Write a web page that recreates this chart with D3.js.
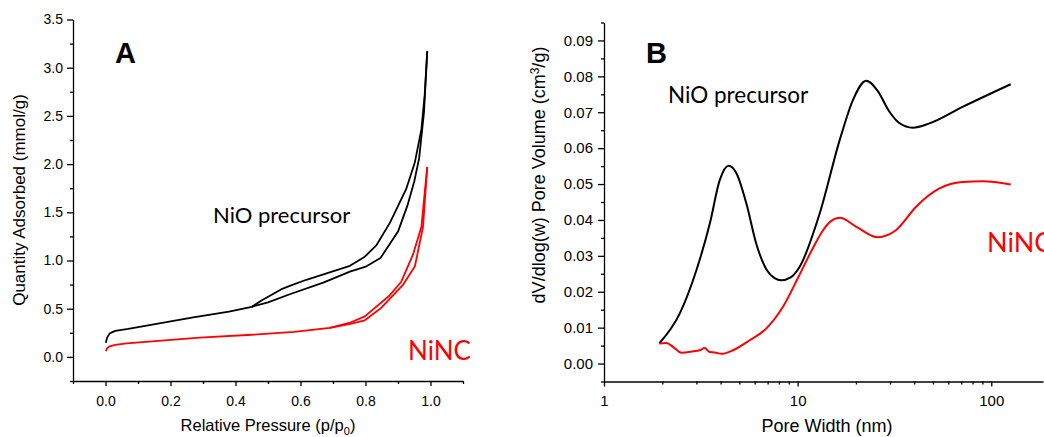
<!DOCTYPE html>
<html>
<head>
<meta charset="utf-8">
<script src="https://cdn.jsdelivr.net/npm/d3@7"></script>
<style>
  body { margin: 0; background: #fff; }
  svg { display: block; }
  .axis text { font-family: "Liberation Sans", Arial, sans-serif; fill: #000; }
  .axis path, .axis line { stroke: #000; stroke-width: 1.3; }
  .title { font-family: "Liberation Sans", Arial, sans-serif; fill: #000; }
  .note { font-family: Lato, "Open Sans", sans-serif; }
</style>
</head>
<body>
<div id="chart"></div>
<script>
// ---- panel A: N2 isotherms (relative pressure vs quantity adsorbed) ----
var nioAdsP = [0.001, 0.005, 0.013, 0.03, 0.07, 0.17, 0.27, 0.38, 0.45, 0.50, 0.567, 0.67, 0.752, 0.803, 0.846, 0.90, 0.93, 0.95, 0.965, 0.98, 0.99];
var nioAdsQ = [0.146, 0.20, 0.244, 0.27, 0.29, 0.35, 0.41, 0.47, 0.52, 0.565, 0.65, 0.77, 0.885, 0.94, 1.025, 1.30, 1.58, 1.82, 2.06, 2.54, 3.17];
var nioDesP = [0.99, 0.982, 0.972, 0.952, 0.925, 0.875, 0.834, 0.798, 0.752, 0.618, 0.567, 0.54, 0.48, 0.45];
var nioDesQ = [3.17, 2.71, 2.36, 2.02, 1.74, 1.39, 1.16, 1.04, 0.945, 0.80, 0.736, 0.70, 0.585, 0.52];

var ncAdsP = [0.001, 0.005, 0.013, 0.03, 0.065, 0.29, 0.45, 0.58, 0.69, 0.75, 0.798, 0.849, 0.916, 0.952, 0.977, 0.99];
var ncAdsQ = [0.06, 0.09, 0.11, 0.125, 0.14, 0.20, 0.23, 0.26, 0.30, 0.34, 0.38, 0.51, 0.75, 0.94, 1.35, 1.97];
var ncDesP = [0.99, 0.982, 0.972, 0.946, 0.91, 0.875, 0.798, 0.75, 0.69];
var ncDesQ = [1.97, 1.70, 1.35, 1.06, 0.78, 0.64, 0.42, 0.352, 0.30];

var aXTicks = [0, 0.2, 0.4, 0.6, 0.8, 1.0];
var aXMinor = [-0.1, 0.1, 0.3, 0.5, 0.7, 0.9, 1.1];
var aYTicks = [0, 0.5, 1.0, 1.5, 2.0, 2.5, 3.0, 3.5];
var aYMinor = [-0.25, 0.25, 0.75, 1.25, 1.75, 2.25, 2.75, 3.25];

// ---- panel B: pore size distribution ----
var nioW = [1.93, 2.46, 3.0, 3.52, 3.96, 4.4, 4.83, 5.44, 6.12, 6.9, 7.6, 8.24, 9.2, 10.3, 13.0, 16.5, 19.3, 22.6, 26.0, 29.5, 33.5, 39.3, 47.9, 71.1, 126];
var nioV = [0.0056, 0.0139, 0.026, 0.039, 0.0511, 0.0551, 0.053, 0.0445, 0.0333, 0.0262, 0.0238, 0.0232, 0.0240, 0.0272, 0.0418, 0.0623, 0.0734, 0.0788, 0.0758, 0.0705, 0.0670, 0.0657, 0.0669, 0.0715, 0.0778];
var ncW = [1.93, 2.1, 2.28, 2.51, 2.89, 3.12, 3.31, 3.52, 3.73, 4.04, 4.64, 5.66, 6.9, 8.4, 10.2, 12.0, 13.4, 14.8, 16.5, 20.1, 25.9, 32.3, 40.9, 54, 71.1, 90.2, 126];
var ncV = [0.0056, 0.0057, 0.0046, 0.003, 0.0034, 0.0037, 0.0043, 0.0032, 0.0031, 0.0027, 0.0037, 0.0065, 0.0098, 0.0158, 0.0246, 0.0322, 0.0368, 0.0396, 0.0406, 0.0381, 0.0352, 0.0372, 0.0437, 0.0488, 0.0506, 0.0508, 0.0499];

var bXTicks = [1, 10, 100];
var bXMinor = [2, 3, 4, 5, 6, 7, 8, 9, 20, 30, 40, 50, 60, 70, 80, 90];
var bYTicks = [0, 0.01, 0.02, 0.03, 0.04, 0.05, 0.06, 0.07, 0.08, 0.09];
var bYMinor = [-0.005, 0.005, 0.015, 0.025, 0.035, 0.045, 0.055, 0.065, 0.075, 0.085, 0.095];

var svg = d3.select("#chart").append("svg")
    .attr("width", 1044)
    .attr("height", 437);

function zip(a, b) { return a.map(function (d, i) { return [d, b[i]]; }); }

// ================= panel A =================
var xA = d3.scaleLinear().domain([-0.1, 1.1]).range([73, 463]);
var yA = d3.scaleLinear().domain([-0.25, 3.5]).range([381, 19.5]);

svg.append("g").attr("class", "axis")
    .attr("transform", "translate(0,381)")
    .call(d3.axisBottom(xA).tickValues(aXTicks).tickSize(5).tickSizeOuter(0).tickPadding(10)
        .tickFormat(d3.format(".1f")))
    .selectAll("text").style("font-size", "14px");
svg.append("g").attr("class", "axis")
    .attr("transform", "translate(0,381)")
    .call(d3.axisBottom(xA).tickValues(aXMinor).tickSize(3).tickFormat(""))
    .select(".domain").remove();

svg.append("g").attr("class", "axis")
    .attr("transform", "translate(73,0)")
    .call(d3.axisLeft(yA).tickValues(aYTicks).tickSize(6).tickSizeOuter(0).tickPadding(4)
        .tickFormat(d3.format(".1f")))
    .selectAll("text").style("font-size", "14px");
svg.append("g").attr("class", "axis")
    .attr("transform", "translate(73,0)")
    .call(d3.axisLeft(yA).tickValues(aYMinor).tickSize(3).tickFormat(""))
    .select(".domain").remove();

var lineA = d3.line()
    .x(function (d) { return xA(d[0]); })
    .y(function (d) { return yA(d[1]); });

[[nioAdsP, nioAdsQ, "#000"], [nioDesP, nioDesQ, "#000"],
 [ncAdsP, ncAdsQ, "#ff0000"], [ncDesP, ncDesQ, "#ff0000"]].forEach(function (s) {
    svg.append("path")
        .datum(zip(s[0], s[1]))
        .attr("fill", "none")
        .attr("stroke", s[2])
        .attr("stroke-width", 1.8)
        .attr("stroke-linejoin", "round")
        .attr("d", lineA);
});

var xtA = svg.append("text").attr("class", "title")
    .attr("x", 268).attr("y", 431)
    .attr("text-anchor", "middle")
    .style("font-size", "16.5px")
    .text("Relative Pressure (p/p");
xtA.append("tspan").attr("dy", 4).style("font-size", "11px").text("0");
xtA.append("tspan").attr("dy", -4).text(")");

svg.append("text").attr("class", "title")
    .attr("transform", "translate(25,200) rotate(-90)")
    .attr("text-anchor", "middle")
    .style("font-size", "17px")
    .text("Quantity Adsorbed (mmol/g)");

svg.append("text")
    .attr("x", 115).attr("y", 63)
    .style("font-family", "'Liberation Sans', Arial, sans-serif")
    .style("font-weight", "bold")
    .style("font-size", "29px")
    .text("A");

svg.append("text").attr("class", "note")
    .attr("x", 213).attr("y", 222.5)
    .style("font-size", "22px")
    .attr("fill", "#000")
    .text("NiO precursor");

svg.append("text").attr("class", "note")
    .attr("x", 408).attr("y", 359.5)
    .style("font-size", "26px")
    .attr("fill", "#ff0000")
    .text("NiNC");

// ================= panel B =================
var xB = d3.scaleLog().domain([1, 185]).range([604, 1043]);
var yB = d3.scaleLinear().domain([-0.005, 0.095]).range([381.5, 22.5]);

svg.append("g").attr("class", "axis")
    .attr("transform", "translate(0,381.5)")
    .call(d3.axisBottom(xB).tickValues(bXTicks).tickSize(5).tickSizeOuter(0).tickPadding(8.5)
        .tickFormat(d3.format("d")))
    .selectAll("text").style("font-size", "15px");
svg.append("g").attr("class", "axis")
    .attr("transform", "translate(0,381.5)")
    .call(d3.axisBottom(xB).tickValues(bXMinor).tickSize(3).tickFormat(""))
    .select(".domain").remove();

svg.append("g").attr("class", "axis")
    .attr("transform", "translate(604,0)")
    .call(d3.axisLeft(yB).tickValues(bYTicks).tickSize(6).tickSizeOuter(0).tickPadding(5)
        .tickFormat(d3.format(".2f")))
    .selectAll("text").style("font-size", "15px");
svg.append("g").attr("class", "axis")
    .attr("transform", "translate(604,0)")
    .call(d3.axisLeft(yB).tickValues(bYMinor).tickSize(3).tickFormat(""))
    .select(".domain").remove();

var lineB = d3.line()
    .curve(d3.curveMonotoneX)
    .x(function (d) { return xB(d[0]); })
    .y(function (d) { return yB(d[1]); });

[[nioW, nioV, "#000"], [ncW, ncV, "#ff0000"]].forEach(function (s) {
    svg.append("path")
        .datum(zip(s[0], s[1]))
        .attr("fill", "none")
        .attr("stroke", s[2])
        .attr("stroke-width", 2)
        .attr("stroke-linejoin", "round")
        .attr("d", lineB);
});

svg.append("text").attr("class", "title")
    .attr("x", 827).attr("y", 432)
    .attr("text-anchor", "middle")
    .style("font-size", "18px")
    .text("Pore Width (nm)");

var ytB = svg.append("text").attr("class", "title")
    .attr("transform", "translate(545,175) rotate(-90)")
    .attr("text-anchor", "middle")
    .style("font-size", "18px")
    .text("dV/dlog(w) Pore Volume (cm");
ytB.append("tspan").attr("dy", -6).style("font-size", "12px").text("3");
ytB.append("tspan").attr("dy", 6).text("/g)");

svg.append("text")
    .attr("x", 646).attr("y", 63)
    .style("font-family", "'Liberation Sans', Arial, sans-serif")
    .style("font-weight", "bold")
    .style("font-size", "29px")
    .text("B");

svg.append("text").attr("class", "note")
    .attr("x", 668).attr("y", 102.5)
    .style("font-size", "22.5px")
    .attr("fill", "#000")
    .text("NiO precursor");

svg.append("text").attr("class", "note")
    .attr("x", 987).attr("y", 251.5)
    .style("font-size", "27px")
    .attr("fill", "#ff0000")
    .text("NiNC");
</script>
</body>
</html>
